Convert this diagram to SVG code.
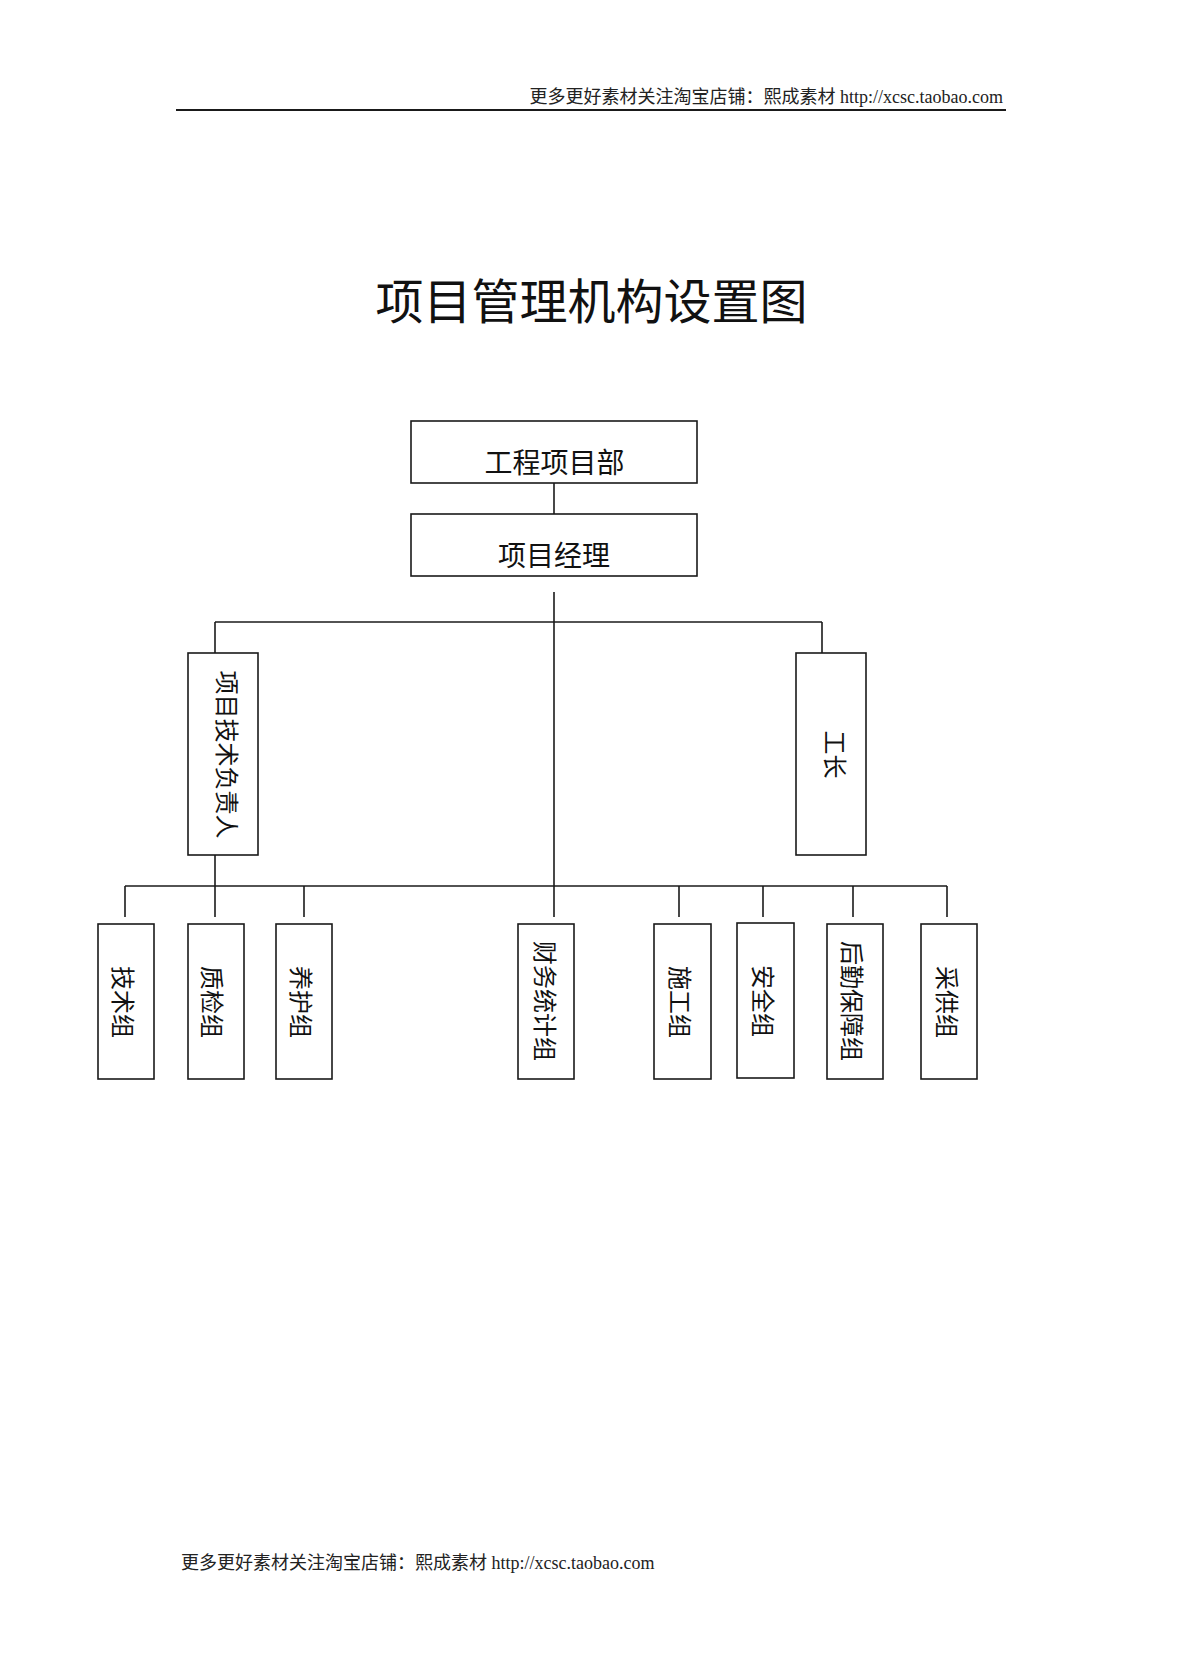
<svg xmlns="http://www.w3.org/2000/svg" width="1182" height="1671" viewBox="0 0 1182 1671">
<style>
.bg{fill:#ffffff}
.box{fill:#ffffff;stroke:#1a1a1a;stroke-width:1.6}
.ln{stroke:#1a1a1a;stroke-width:1.6;fill:none}
.t{font-family:"Noto Sans CJK SC","Liberation Sans",sans-serif;fill:#111;text-anchor:middle;dominant-baseline:central}
.h{font-size:28px}
.v{font-size:24px}
.note{font-family:"Liberation Serif","Noto Sans CJK SC",serif;font-size:18px;fill:#222}
</style>
<rect class="bg" x="0" y="0" width="1182" height="1671"/>
<g id="header">
<text class="note" x="1003" y="103" text-anchor="end">更多更好素材关注淘宝店铺：熙成素材 http://xcsc.taobao.com</text>
<line x1="176" y1="110" x2="1006" y2="110" stroke="#1a1a1a" stroke-width="2"/>
</g>
<g id="title">
<text class="t" x="591.5" y="298" font-size="48">项目管理机构设置图</text>
</g>
<g id="connectors">
<line class="ln" x1="554" y1="483" x2="554" y2="514"/>
<line class="ln" x1="554" y1="592" x2="554" y2="917"/>
<line class="ln" x1="215" y1="622" x2="822" y2="622"/>
<line class="ln" x1="215" y1="622" x2="215" y2="653"/>
<line class="ln" x1="822" y1="622" x2="822" y2="653"/>
<line class="ln" x1="215" y1="855" x2="215" y2="917"/>
<line class="ln" x1="125" y1="886" x2="947" y2="886"/>
<line class="ln" x1="125" y1="886" x2="125" y2="917"/>
<line class="ln" x1="304" y1="886" x2="304" y2="917"/>
<line class="ln" x1="679" y1="886" x2="679" y2="917"/>
<line class="ln" x1="763" y1="886" x2="763" y2="917"/>
<line class="ln" x1="853" y1="886" x2="853" y2="917"/>
<line class="ln" x1="947" y1="886" x2="947" y2="917"/>
</g>
<g id="n-gcxmb">
<rect class="box" x="411" y="421" width="286" height="62"/>
<text class="t h" x="554.5" y="461">工程项目部</text>
</g>
<g id="n-xmjl">
<rect class="box" x="411" y="514" width="286" height="62"/>
<text class="t h" x="554" y="554">项目经理</text>
</g>
<g id="n-jsfzr">
<rect class="box" x="188" y="653" width="70" height="202"/>
<text class="t v" transform="translate(228,754.5) rotate(90)">项目技术负责人</text>
</g>
<g id="n-gz">
<rect class="box" x="796" y="653" width="70" height="202"/>
<text class="t v" transform="translate(836,754.5) rotate(90)">工长</text>
</g>
<g id="n-jsz">
<rect class="box" x="98" y="924" width="56" height="155"/>
<text class="t v" transform="translate(124,1002) rotate(90)">技术组</text>
</g>
<g id="n-zjz">
<rect class="box" x="188" y="924" width="56" height="155"/>
<text class="t v" transform="translate(213,1002) rotate(90)">质检组</text>
</g>
<g id="n-yhz">
<rect class="box" x="276" y="924" width="56" height="155"/>
<text class="t v" transform="translate(302,1002) rotate(90)">养护组</text>
</g>
<g id="n-cwtjz">
<rect class="box" x="518" y="924" width="56" height="155"/>
<text class="t v" transform="translate(546,1001) rotate(90)">财务统计组</text>
</g>
<g id="n-sgz">
<rect class="box" x="654" y="924" width="57" height="155"/>
<text class="t v" transform="translate(681,1002) rotate(90)">施工组</text>
</g>
<g id="n-aqz">
<rect class="box" x="737" y="923" width="57" height="155"/>
<text class="t v" transform="translate(764,1001) rotate(90)">安全组</text>
</g>
<g id="n-hqbzz">
<rect class="box" x="827" y="924" width="56" height="155"/>
<text class="t v" transform="translate(853,1001) rotate(90)">后勤保障组</text>
</g>
<g id="n-cgz">
<rect class="box" x="921" y="924" width="56" height="155"/>
<text class="t v" transform="translate(948,1002) rotate(90)">采供组</text>
</g>
<g id="footer">
<text class="note" x="181" y="1569">更多更好素材关注淘宝店铺：熙成素材 http://xcsc.taobao.com</text>
</g>
</svg>
